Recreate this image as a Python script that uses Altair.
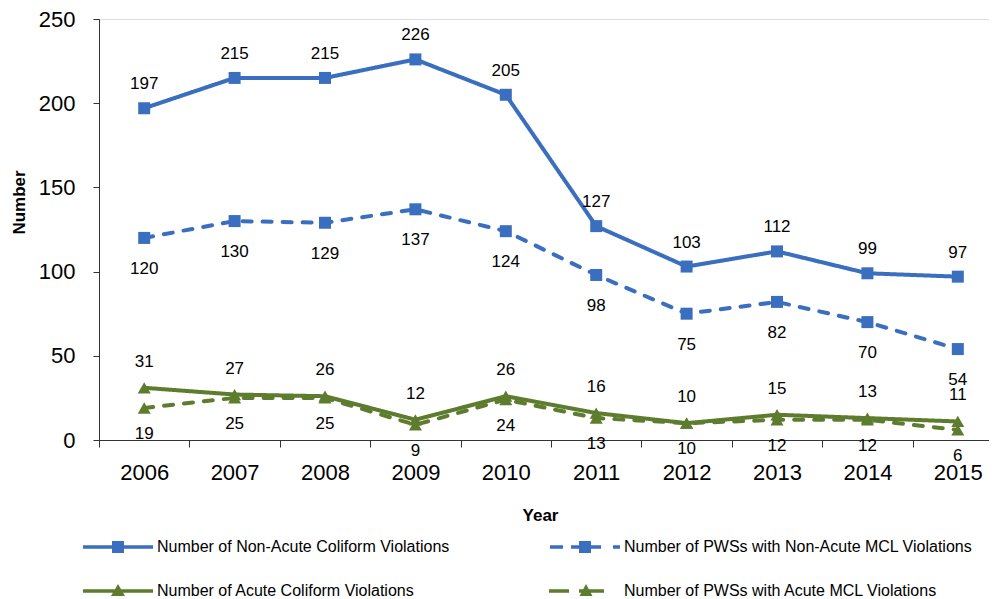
import altair as alt
import pandas as pd

years = [2006, 2007, 2008, 2009, 2010, 2011, 2012, 2013, 2014, 2015]
series_names = [
    "Number of Non-Acute Coliform Violations",
    "Number of PWSs with Non-Acute MCL Violations",
    "Number of Acute Coliform Violations",
    "Number of PWSs with Acute MCL Violations",
]
non_acute = [197, 215, 215, 226, 205, 127, 103, 112, 99, 97]
pws_non_acute = [120, 130, 129, 137, 124, 98, 75, 82, 70, 54]
acute = [31, 27, 26, 12, 26, 16, 10, 15, 13, 11]
pws_acute = [19, 25, 25, 9, 24, 13, 10, 12, 12, 6]
y_ticks = [0, 50, 100, 150, 200, 250]

rows = []
for name, vals in zip(series_names, [non_acute, pws_non_acute, acute, pws_acute]):
    for yr, v in zip(years, vals):
        rows.append({"year": yr, "value": v, "series": name})
df = pd.DataFrame(rows)

BLUE = "#3A6EBF"
GREEN = "#5E7C2E"
FONT = "Liberation Sans, Arial"
AXIS_COLOR = "#333333"

x_values = []
for yr in years:
    x_values.append(yr - 0.5)
    x_values.append(yr)

x = alt.X(
    "year:Q",
    scale=alt.Scale(domain=[2005.5, 2015.345], nice=False, zero=False),
    axis=alt.Axis(
        values=x_values,
        labelExpr="datum.value % 1 == 0 ? toString(datum.value) : ''",
        tickOpacity={"condition": {"test": "datum.value % 1 == 0", "value": 0}, "value": 1},
        grid=False,
        labelOverlap=False,
        labelFlush=False,
        labelFont=FONT,
        labelFontSize=22,
        labelColor="black",
        labelPadding=15,
        tickSize=7,
        tickColor=AXIS_COLOR,
        domainColor=AXIS_COLOR,
        title="Year",
        titleFont=FONT,
        titleFontSize=17,
        titleFontWeight="bold",
        titleColor="black",
        titleX=441,
        titleY=75,
        titleBaseline="middle",
        titleAlign="center",
    ),
)
y = alt.Y(
    "value:Q",
    scale=alt.Scale(domain=[0, 250], nice=False),
    axis=alt.Axis(
        values=y_ticks,
        grid=False,
        labelFont=FONT,
        labelFontSize=22,
        labelColor="black",
        labelPadding=18,
        tickSize=6,
        tickColor=AXIS_COLOR,
        domainColor=AXIS_COLOR,
        title="Number",
        titleFont=FONT,
        titleFontSize=17,
        titleFontWeight="bold",
        titleColor="black",
        titleX=-80,
        titleY=183,
        titleAngle=-90,
        titleBaseline="middle",
        titleAlign="center",
    ),
)

series_colors = [BLUE, BLUE, GREEN, GREEN]
series_dash = [[1, 0], [9, 11], [1, 0], [9, 11]]
series_shape = ["square", "square", "triangle-up", "triangle-up"]
series_size = [144, 144, 170, 170]
label_offsets = [-24, 31, -26, 26]

layers = []
for name, col, dash in zip(series_names, series_colors, series_dash):
    layers.append(
        alt.Chart(df).transform_filter(alt.datum.series == name).mark_line(
            strokeWidth=4, strokeCap="round", color=col, strokeDash=dash
        ).encode(x=x, y=y)
    )
for name, col, shp, sz in zip(series_names, series_colors, series_shape, series_size):
    layers.append(
        alt.Chart(df).transform_filter(alt.datum.series == name).mark_point(
            shape=shp, filled=True, size=sz, opacity=1, color=col
        ).encode(x=x, y=y)
    )
for name, dy in zip(series_names, label_offsets):
    layers.append(
        alt.Chart(df).transform_filter(alt.datum.series == name).mark_text(
            font=FONT, fontSize=17, color="black", dy=dy, baseline="middle", align="center"
        ).encode(x=x, y=y, text="value:Q")
    )

legend_paths = [
    "M-3.5,-0.18H3.5V0.18H-3.5Z M-0.6,-0.6H0.6V0.6H-0.6Z",
    "M-3.5,-0.18H-2.2V0.18H-3.5Z M-1.4,-0.18H1.6V0.18H-1.4Z M2.8,-0.18H3.5V0.18H2.8Z M-0.6,-0.6H0.6V0.6H-0.6Z",
    "M-3.5,-0.18H3.5V0.18H-3.5Z M-0.7,0.5L0,-0.7L0.7,0.5Z",
    "M-3.6,-0.18H-1.6V0.18H-3.6Z M-0.6,-0.18H1.9V0.18H-0.6Z M-0.55,0.5L0.1,-0.7L0.75,0.5Z",
]

legend_spec = dict(
    title=None,
    orient="none",
    legendX=9,
    legendY=518,
    columns=2,
    direction="horizontal",
    symbolSize=400,
    symbolStrokeWidth=0,
    symbolOpacity=1,
    labelOffset=29,
    columnPadding=99,
    rowPadding=26,
    labelFont=FONT,
    labelFontSize=16,
    labelColor="black",
    labelLimit=0,
)

legend_layer = alt.Chart(df).transform_filter("false").mark_point(filled=True).encode(
    x=x,
    y=y,
    color=alt.Color(
        "series:N",
        scale=alt.Scale(domain=series_names, range=series_colors),
        legend=alt.Legend(**legend_spec),
    ),
    shape=alt.Shape(
        "series:N",
        scale=alt.Scale(domain=series_names, range=legend_paths),
        legend=alt.Legend(**legend_spec),
    ),
)
layers.append(legend_layer)

chart = alt.layer(*layers).properties(
    width=890,
    height=421,
    padding={"left": 91, "top": 11, "right": 0, "bottom": 159},
    autosize=alt.AutoSizeParams(type="none"),
).configure_view(stroke=None).configure(background="white")

chart.save("out.html", embed_options={"renderer": "svg", "actions": False})
